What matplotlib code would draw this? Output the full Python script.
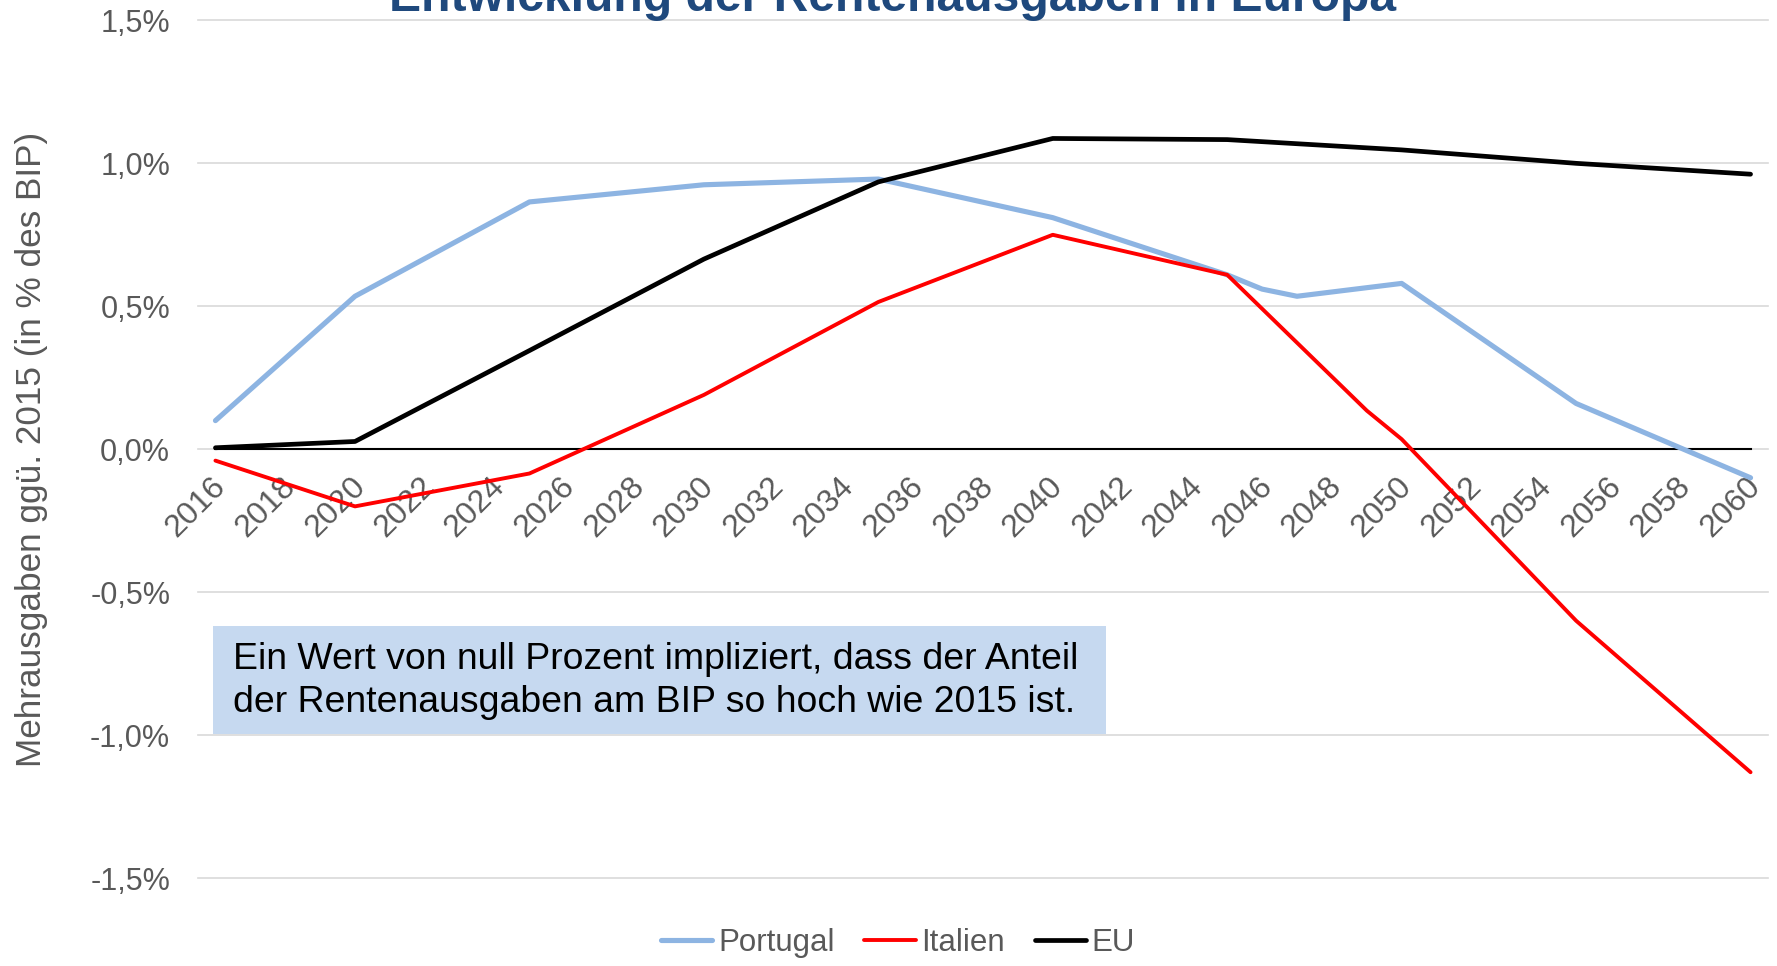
import matplotlib
matplotlib.use("Agg")
import matplotlib.pyplot as plt
import matplotlib.transforms as mtransforms
from matplotlib.patches import Rectangle

plt.rcParams['font.family'] = ['Liberation Sans', 'DejaVu Sans']

# -------------------------
# Daten
# -------------------------
jahre_pt = [2016, 2020, 2025, 2030, 2035, 2040, 2045, 2046, 2047, 2050, 2055, 2060]
portugal = [0.10, 0.535, 0.865, 0.925, 0.945, 0.81, 0.61, 0.56, 0.535, 0.58, 0.16, -0.10]

jahre_it = [2016, 2020, 2025, 2030, 2035, 2040, 2045, 2049, 2050, 2055, 2060]
italien = [-0.04, -0.20, -0.085, 0.19, 0.515, 0.75, 0.61, 0.135, 0.035, -0.60, -1.13]

jahre_eu = [2016, 2020, 2025, 2030, 2035, 2040, 2045, 2050, 2055, 2060]
eu = [0.005, 0.027, 0.345, 0.665, 0.935, 1.087, 1.083, 1.047, 1.0, 0.962]

x_ticks = list(range(2016, 2061, 2))
y_ticks = [-1.5, -1.0, -0.5, 0.0, 0.5, 1.0, 1.5]
y_labels = ['-1,5%', '-1,0%', '-0,5%', '0,0%', '0,5%', '1,0%', '1,5%']

titel = 'Entwicklung der Rentenausgaben in Europa'
y_titel = 'Mehrausgaben ggü. 2015 (in % des BIP)'
hinweis = ('Ein Wert von null Prozent impliziert, dass der Anteil\n'
           'der Rentenausgaben am BIP so hoch wie 2015 ist.')

grau = '#595959'
W, H = 1777, 966

fig = plt.figure(figsize=(W / 100, H / 100), dpi=100)
ax = fig.add_axes([198 / W, 1 - 878 / H, (1768 - 198) / W, (878 - 20.4) / H])

# Gitterlinien
for y in y_ticks:
    ax.axhline(y, color='#D9D9D9', lw=1.2, zorder=0, clip_on=False)

ax.plot(jahre_pt, portugal, color='#8DB4E2', lw=3.7, label='Portugal', zorder=3,
        solid_capstyle='round')
ax.plot(jahre_it, italien, color='#FF0000', lw=2.8, label='Italien', zorder=4,
        solid_capstyle='round')
ax.plot(jahre_eu, eu, color='black', lw=3.4, label='EU', zorder=5,
        solid_capstyle='round')

ax.set_xlim(2015.5, 2060.5)
ax.set_ylim(-1.5, 1.5)

# Achsen: Nulllinie als untere Achse
for s in ['top', 'right', 'left']:
    ax.spines[s].set_visible(False)
ax.spines['bottom'].set_position(('data', 0))
ax.spines['bottom'].set_bounds(2016, 2060)
ax.spines['bottom'].set_linewidth(1.5)
ax.spines['bottom'].set_zorder(2)

ax.set_xticks(x_ticks)
ax.set_xticklabels([str(j) for j in x_ticks], rotation=45, ha='right',
                   rotation_mode='anchor', fontsize=23, color=grau)
ax.set_yticks(y_ticks)
ax.set_yticklabels(y_labels, fontsize=22, color=grau)
ax.tick_params(axis='both', length=0)
ax.tick_params(axis='x', pad=16)
ax.tick_params(axis='y', pad=20)

verschub = mtransforms.ScaledTranslation(-5 / 100, 0, fig.dpi_scale_trans)
for lbl in ax.get_xticklabels():
    lbl.set_transform(lbl.get_transform() + verschub)

fig.text(32 / W, 1 - 449 / H, y_titel, rotation=90, ha='center', va='center',
         fontsize=25.3, color=grau)

fig.text(893 / W, 1 - 11 / H, titel, ha='center', va='baseline',
         fontsize=34.6, fontweight='bold', color='#1F497D')

# Hinweisbox
fig.patches.append(Rectangle((213 / W, 1 - 734 / H), (1106 - 213) / W, (734 - 626) / H,
                             transform=fig.transFigure, facecolor='#C6D9F0',
                             edgecolor='none', zorder=6))
fig.text(233 / W, 1 - 681 / H, hinweis, ha='left', va='center', fontsize=26.9,
         color='black', linespacing=1.33, zorder=7)

fig.legend(loc='center', bbox_to_anchor=(898 / W, 1 - 943 / H), ncol=3, frameon=False,
           fontsize=22.5, labelcolor=grau, handlelength=1.65, handletextpad=0.18,
           columnspacing=0.95)

fig.savefig('out.png', dpi=100)
